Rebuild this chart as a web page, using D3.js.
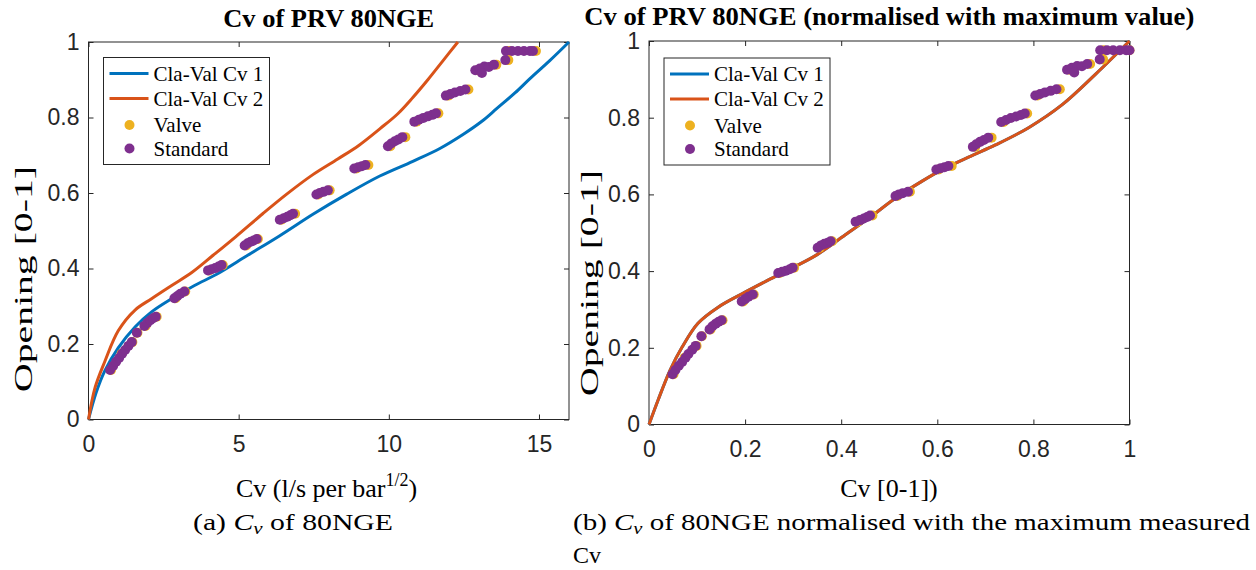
<!DOCTYPE html>
<html><head><meta charset="utf-8">
<script src="https://cdn.jsdelivr.net/npm/d3@7"></script>
<style>html,body{margin:0;padding:0;background:#fff}</style>
</head><body>
<svg id="chart" width="1256" height="570"></svg>
<script>
// ---------- DATA ----------
const seriesNames = ["Cla-Val Cv 1", "Cla-Val Cv 2", "Valve", "Standard"];
const xTicksLeft = [0, 5, 10, 15];
const xTickLabelsLeft = ["0", "5", "10", "15"];
const xTicksRight = [0, 0.2, 0.4, 0.6, 0.8, 1];
const xTickLabelsRight = ["0", "0.2", "0.4", "0.6", "0.8", "1"];
const yTicks = [0, 0.2, 0.4, 0.6, 0.8, 1];
const yTickLabels = ["0", "0.2", "0.4", "0.6", "0.8", "1"];

// Cla-Val Cv 1 curve (Cv l/s per bar^1/2, opening)
const claVal1Cv =      [0, 0.25, 0.55, 0.99, 1.55, 2.1, 2.77, 3.53, 4.3, 5.3, 6.37, 7.5, 8.6, 9.7, 10.8, 11.7, 12.47, 13.1, 13.6, 14.2, 14.7, 15.35, 16];
const claVal1Opening = [0, 0.07, 0.13, 0.19, 0.245, 0.285, 0.32, 0.355, 0.386, 0.435, 0.487, 0.545, 0.597, 0.645, 0.684, 0.718, 0.755, 0.79, 0.824, 0.865, 0.903, 0.95, 1.0];
// Cla-Val Cv 2 curve
const claVal2Cv =      [0, 0.22, 0.55, 0.99, 1.55, 2.1, 2.77, 3.45, 4.15, 4.9, 5.8, 6.6, 7.46, 8.3, 9.0, 9.7, 10.3, 10.8, 11.3, 11.8, 12.3];
const claVal2Opening = [0, 0.085, 0.155, 0.235, 0.29, 0.32, 0.355, 0.39, 0.435, 0.484, 0.545, 0.597, 0.648, 0.69, 0.726, 0.77, 0.81, 0.853, 0.9, 0.95, 1.0];
// normalised Cla-Val curves (both coincide)
const claValNormCv =      [0, 0.019, 0.044, 0.069, 0.102, 0.144, 0.2, 0.269, 0.35, 0.408, 0.46, 0.5125, 0.565, 0.617, 0.67, 0.721, 0.79, 0.86, 0.929, 1];
const claValNormOpening = [0, 0.064, 0.142, 0.202, 0.264, 0.306, 0.345, 0.39, 0.443, 0.494, 0.54, 0.59, 0.632, 0.669, 0.70, 0.729, 0.774, 0.834, 0.913, 1];

// Standard measurements: Cv, opening, normalised Cv
const standardCv = [0.72,0.82,0.92,1.02,1.12,1.22,1.33,1.44, 1.61, 1.86,1.96,2.06,2.15,2.24, 2.86,2.96,3.06,3.19,
  3.98,4.1,4.22,4.33,4.43, 5.2,5.3,5.4,5.5,5.6, 6.37,6.5,6.62,6.72,6.81, 7.59,7.7,7.82,7.97, 8.85,8.98,9.1,9.22,
  9.97,10.08,10.2,10.32,10.45, 10.85,11.0,11.15,11.3,11.45,11.57, 11.9,12.05,12.2,12.38,12.55,
  12.88,13.03,13.18,13.33,13.5,13.1, 13.88, 13.9,14.1,14.3,14.5,14.7,14.8];
const standardOpening = [0.131,0.142,0.153,0.163,0.174,0.184,0.195,0.205, 0.230, 0.248,0.256,0.263,0.268,0.272, 0.321,0.327,0.333,0.339,
  0.395,0.398,0.401,0.405,0.409, 0.461,0.467,0.471,0.474,0.478, 0.529,0.533,0.537,0.541,0.545, 0.596,0.600,0.603,0.607, 0.665,0.668,0.671,0.674,
  0.724,0.731,0.737,0.742,0.748, 0.789,0.794,0.799,0.803,0.807,0.811, 0.858,0.862,0.866,0.870,0.874,
  0.925,0.930,0.935,0.934,0.940,0.918, 0.952, 0.976,0.976,0.976,0.976,0.976,0.976];
const standardNormCv = [0.049,0.055,0.062,0.069,0.076,0.082,0.090,0.097, 0.109, 0.126,0.132,0.139,0.145,0.151, 0.193,0.200,0.207,0.216,
  0.269,0.277,0.285,0.293,0.299, 0.351,0.358,0.365,0.372,0.378, 0.430,0.439,0.447,0.454,0.460, 0.513,0.520,0.528,0.539, 0.598,0.607,0.615,0.623,
  0.674,0.681,0.689,0.697,0.706, 0.733,0.743,0.753,0.764,0.774,0.782, 0.804,0.814,0.824,0.836,0.848,
  0.870,0.880,0.891,0.901,0.912,0.885, 0.938, 0.939,0.953,0.966,0.980,0.993,1.0];

// Valve measurements: Cv, opening, normalised Cv
const valveCv = [0.75,1.1,1.46, 1.63, 1.9,2.27, 2.9,3.22, 4.02,4.47, 5.25,5.64, 6.42,6.88, 7.65,8.03, 8.92,9.32,
  10.05,10.55, 10.92,11.65, 11.98,12.65, 12.95,13.58, 13.98, 14.0,14.9];
const valveOpening = [0.131,0.174,0.205, 0.230, 0.248,0.272, 0.321,0.339, 0.395,0.409, 0.461,0.478, 0.529,0.545, 0.596,0.607, 0.665,0.674,
  0.724,0.748, 0.789,0.811, 0.858,0.874, 0.925,0.940, 0.952, 0.976,0.976];
const valveNormCv = [0.051,0.074,0.099, 0.110, 0.128,0.153, 0.196,0.218, 0.272,0.302, 0.355,0.381, 0.434,0.465, 0.517,0.543, 0.603,0.630,
  0.679,0.713, 0.738,0.787, 0.809,0.855, 0.875,0.918, 0.945, 0.946,1.0];

// ---------- STYLE ----------
const C_BLUE = "#0072BD", C_ORANGE = "#D95319", C_YELLOW = "#EDB120", C_PURPLE = "#7E2F8E", C_AX = "#262626";
const SANS = "'Liberation Sans', Arial, sans-serif";
const SERIF = "'Liberation Serif', 'Times New Roman', serif";
const R_PT = 5;

const svg = d3.select("#chart");
const zip = (a, b) => a.map((v, i) => [v, b[i]]);

function panel(cfg) {
  const x = d3.scaleLinear().domain(cfg.xDomain).range(cfg.xRange);
  const y = d3.scaleLinear().domain([0, 1]).range(cfg.yRange);
  const g = svg.append("g");
  const [x0, x1] = cfg.xRange, [y0, y1] = cfg.yRange;

  const ax = (axis, tx, ty) => {
    const a = g.append("g").attr("transform", `translate(${tx},${ty})`).call(axis);
    a.select(".domain").remove();
    a.selectAll("line").attr("stroke", C_AX);
    a.selectAll("text").attr("fill", C_AX).style("font-family", SANS).style("font-size", "23px");
    return a;
  };
  ax(d3.axisBottom(x).tickValues(cfg.xTicks).tickFormat((d, i) => cfg.xTickLabels[i]).tickSizeInner(-5).tickSizeOuter(0).tickPadding(16), 0, y0);
  ax(d3.axisTop(x).tickValues(cfg.xTicks).tickFormat("").tickSizeInner(-5).tickSizeOuter(0), 0, y1);
  ax(d3.axisLeft(y).tickValues(yTicks).tickFormat((d, i) => yTickLabels[i]).tickSizeInner(-5).tickSizeOuter(0).tickPadding(9), x0, 0);
  ax(d3.axisRight(y).tickValues(yTicks).tickFormat("").tickSizeInner(-5).tickSizeOuter(0), x1, 0);
  g.append("rect").attr("x", x0).attr("y", y1).attr("width", x1 - x0).attr("height", y0 - y1)
    .attr("fill", "none").attr("stroke", C_AX).attr("stroke-width", 1);

  const line = d3.line().x(d => x(d[0])).y(d => y(d[1])).curve(d3.curveCatmullRom.alpha(0.5));
  g.append("path").datum(cfg.curve1).attr("d", line).attr("fill", "none").attr("stroke", C_BLUE).attr("stroke-width", 3);
  g.append("path").datum(cfg.curve2).attr("d", line).attr("fill", "none").attr("stroke", C_ORANGE).attr("stroke-width", 3);

  g.append("g").selectAll("circle").data(cfg.valve).join("circle")
    .attr("cx", d => x(d[0])).attr("cy", d => y(d[1])).attr("r", R_PT).attr("fill", C_YELLOW);
  g.append("g").selectAll("circle").data(cfg.standard).join("circle")
    .attr("cx", d => x(d[0])).attr("cy", d => y(d[1])).attr("r", R_PT).attr("fill", C_PURPLE);

  // title
  g.append("text").attr("transform", `translate(${(x0 + x1) / 2},${cfg.titleY}) scale(1,1.08)`).attr("text-anchor", "middle")
    .style("font-family", SERIF).style("font-weight", "bold").style("font-size", "24px").attr("fill", "#000")
    .attr("textLength", cfg.titleLen).attr("lengthAdjust", "spacingAndGlyphs").text(cfg.title);

  // legend
  const lg = g.append("g").attr("transform", `translate(${x0 + cfg.legDx},${y1 + cfg.legDy})`);
  lg.append("rect").attr("width", 166).attr("height", 107).attr("fill", "#fff").attr("stroke", C_AX).attr("stroke-width", 1);
  const rows = [16, 41, 67.5, 91];
  seriesNames.forEach((n, i) => {
    const ry = rows[i];
    if (i < 2) lg.append("line").attr("x1", 6).attr("x2", 45).attr("y1", ry).attr("y2", ry)
      .attr("stroke", i === 0 ? C_BLUE : C_ORANGE).attr("stroke-width", 3);
    else lg.append("circle").attr("cx", 26).attr("cy", ry).attr("r", R_PT).attr("fill", i === 2 ? C_YELLOW : C_PURPLE);
    lg.append("text").attr("x", 50).attr("y", ry + 7).style("font-family", SERIF).style("font-size", "21px")
      .attr("fill", "#000").text(n);
  });

  // y label
  g.append("text").attr("transform", `translate(${cfg.yLabX},${cfg.yLabY}) rotate(-90)`).attr("text-anchor", "middle")
    .style("font-family", SERIF).style("font-size", "26px").attr("fill", "#000")
    .attr("textLength", 226).attr("lengthAdjust", "spacingAndGlyphs").text("Opening [0-1]");
  return {g, x, y};
}

panel({
  xDomain: [0, 16], xRange: [88.5, 569], yRange: [419.5, 42],
  xTicks: xTicksLeft, xTickLabels: xTickLabelsLeft,
  curve1: zip(claVal1Cv, claVal1Opening), curve2: zip(claVal2Cv, claVal2Opening),
  valve: zip(valveCv, valveOpening), standard: zip(standardCv, standardOpening),
  title: "Cv of PRV 80NGE", titleY: 27, titleLen: 211,
  legDx: 15, legDy: 15.5, yLabX: 32, yLabY: 279
});
panel({
  xDomain: [0, 1], xRange: [649, 1129.5], yRange: [424.5, 41],
  xTicks: xTicksRight, xTickLabels: xTickLabelsRight,
  curve1: zip(claValNormCv, claValNormOpening), curve2: zip(claValNormCv, claValNormOpening),
  valve: zip(valveNormCv, valveOpening), standard: zip(standardNormCv, standardOpening),
  title: "Cv of PRV 80NGE (normalised with maximum value)", titleY: 25, titleLen: 610,
  legDx: 15, legDy: 17, yLabX: 598, yLabY: 283
});

// x labels
const xl = svg.append("text").attr("x", 236).attr("y", 497).style("font-family", SERIF).style("font-size", "26px").attr("fill", "#000");
xl.append("tspan").text("Cv (l/s per bar");
xl.append("tspan").attr("dy", -11).style("font-size", "18px").text("1/2");
xl.append("tspan").attr("dy", 11).text(")");
svg.append("text").attr("x", 889).attr("y", 497).attr("text-anchor", "middle").style("font-family", SERIF).style("font-size", "26px")
  .attr("fill", "#000").text("Cv [0-1])");

// captions
function caption(xp, yp, letter, rest, len) {
  const t = svg.append("text").attr("x", xp).attr("y", yp).style("font-family", SERIF).style("font-size", "24px").attr("fill", "#000");
  if (len) t.attr("textLength", len).attr("lengthAdjust", "spacingAndGlyphs");
  t.append("tspan").text(`(${letter}) `);
  t.append("tspan").style("font-style", "italic").text("C");
  t.append("tspan").style("font-style", "italic").style("font-size", "17px").attr("dy", 4).text("v");
  t.append("tspan").attr("dy", -4).text(" " + rest);
}
caption(193, 530, "a", "of 80NGE", 200);
caption(573, 530, "b", "of 80NGE normalised with the maximum measured", 677);
svg.append("text").attr("x", 573).attr("y", 563).style("font-family", SERIF).style("font-size", "24px").attr("fill", "#000").text("Cv");
</script>
</body></html>
